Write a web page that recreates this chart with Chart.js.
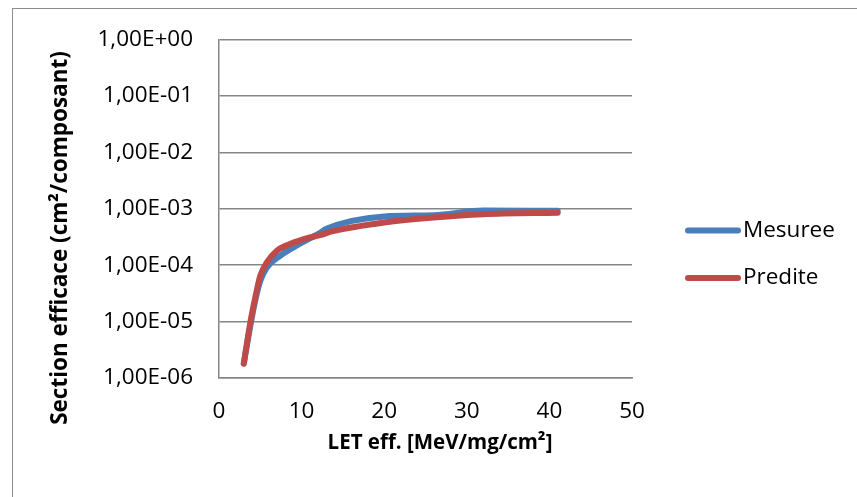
<!DOCTYPE html>
<html>
<head>
<meta charset="utf-8">
<script src="https://cdn.jsdelivr.net/npm/chart.js@4"></script>
<style>
    body { margin: 0; background: #fff; overflow: hidden; }
    .wrap { position: relative; width: 857px; height: 497px; overflow: hidden; }
    .frame { position: absolute; left: 12px; top: 8px; width: 900px; height: 600px; border-left: 1px solid #8c8c8c; border-top: 1px solid #8c8c8c; }
    canvas { position: absolute; left: 0; top: 0; }
</style>
</head>
<body>
<div class="wrap">
    <div class="frame"></div>
    <canvas id="chart" width="857" height="497"></canvas>
</div>
<script>
// data
const seriesNames = ['Mesuree', 'Predite'];
const mesureeLet = [3, 3.8, 4.4, 5, 5.8, 7.4, 9.8, 11, 12.2, 13, 20, 26, 32, 41];
const mesureeSigma = [1.8e-6, 8.5e-6, 2.4e-5, 5.3e-5, 9.1e-5, 1.47e-4, 2.4e-4, 3.0e-4, 3.7e-4, 4.4e-4, 7.3e-4, 7.7e-4, 9.3e-4, 9.2e-4];
const preditLet = [3, 3.75, 4.4, 5, 5.8, 7, 8.6, 11, 12.2, 13.8, 20, 26, 32, 41];
const preditSigma = [1.8e-6, 8.9e-6, 2.7e-5, 6.5e-5, 1.12e-4, 1.8e-4, 2.37e-4, 3.1e-4, 3.4e-4, 4.0e-4, 5.7e-4, 7.0e-4, 8.0e-4, 8.5e-4];
const yTicks = [1e-6, 1e-5, 1e-4, 1e-3, 1e-2, 1e-1, 1];
const xTicks = [0, 10, 20, 30, 40, 50];

const colors = ['#4a7ebb', '#be4b48'];
const font = '"Open Sans", sans-serif';
const gridColor = '#868686';

const toPoints = (xs, ys) => xs.map((x, i) => ({ x: x, y: ys[i] }));

function sciLabel(v) {
    const exp = Math.round(Math.log10(v));
    const sign = exp < 0 ? '-' : '+';
    return '1,00E' + sign + String(Math.abs(exp)).padStart(2, '0');
}

const extras = {
    id: 'extras',
    afterDraw(chart) {
        const ctx = chart.ctx;
        ctx.save();
        // legend
        const rows = [230.5, 278];
        seriesNames.forEach((name, i) => {
            ctx.strokeStyle = colors[i];
            ctx.lineWidth = 6;
            ctx.lineCap = 'round';
            ctx.beginPath();
            ctx.moveTo(688, rows[i]);
            ctx.lineTo(738, rows[i]);
            ctx.stroke();
            ctx.fillStyle = '#000';
            ctx.font = '22.5px ' + font;
            ctx.textBaseline = 'middle';
            ctx.textAlign = 'left';
            ctx.fillText(name, 743, rows[i]);
        });
        // axis titles
        ctx.textAlign = 'center';
        ctx.textBaseline = 'middle';
        ctx.font = 'bold 20.5px ' + font;
        ctx.fillText('LET eff. [MeV/mg/cm²]', 440, 443);
        ctx.font = 'bold 22.5px ' + font;
        ctx.translate(61, 238);
        ctx.rotate(-Math.PI / 2);
        ctx.fillText('Section efficace (cm²/composant)', 0, 0);
        ctx.restore();
    }
};

new Chart(document.getElementById('chart'), {
    type: 'line',
    data: {
        datasets: [
            {
                label: seriesNames[0],
                data: toPoints(mesureeLet, mesureeSigma),
                borderColor: colors[0],
                order: 1
            },
            {
                label: seriesNames[1],
                data: toPoints(preditLet, preditSigma),
                borderColor: colors[1],
                order: 0
            }
        ]
    },
    options: {
        responsive: false,
        animation: false,
        layout: { padding: { left: 0, top: 38, right: 225, bottom: 59 } },
        elements: {
            point: { radius: 0 },
            line: { borderWidth: 6, borderCapStyle: 'round', borderJoinStyle: 'round', cubicInterpolationMode: 'monotone', fill: false }
        },
        plugins: {
            legend: { display: false },
            tooltip: { enabled: false }
        },
        scales: {
            x: {
                type: 'linear',
                min: 0,
                max: 50,
                afterFit: s => { s.height = 60; },
                afterBuildTicks: s => { s.ticks = xTicks.map(v => ({ value: v })); },
                grid: { display: false, drawTicks: false },
                border: { display: true, color: gridColor, width: 1.5 },
                ticks: { color: '#000', font: { family: font, size: 22.5 }, padding: 20, maxRotation: 0 }
            },
            y: {
                type: 'logarithmic',
                min: 1e-6,
                max: 1,
                afterFit: s => { s.width = 219; },
                afterBuildTicks: s => { s.ticks = yTicks.map(v => ({ value: v })); },
                grid: { color: gridColor, lineWidth: 1.5, drawTicks: false },
                border: { display: true, color: gridColor, width: 1.5 },
                ticks: { color: '#000', font: { family: font, size: 22.5 }, padding: 26, callback: v => sciLabel(v) }
            }
        }
    },
    plugins: [extras]
});
</script>
</body>
</html>
